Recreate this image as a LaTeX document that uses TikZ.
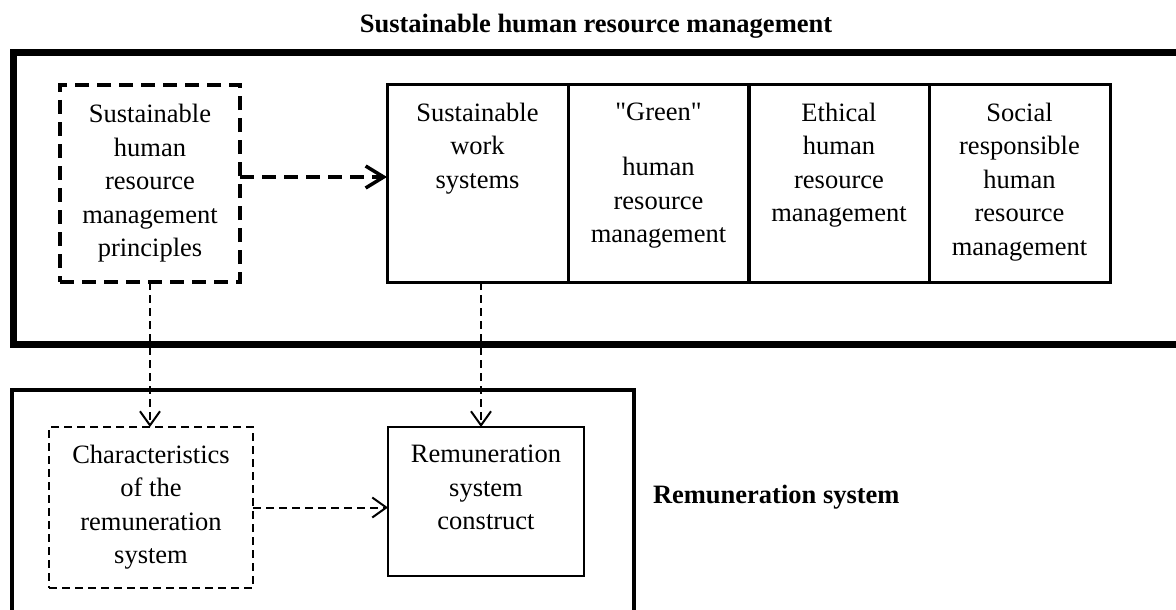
\documentclass[tikz,border=0pt]{standalone}
\usepackage{fontspec}
\setmainfont{Liberation Serif}
\newfontfamily\plainquote{Liberation Serif}
\usetikzlibrary{arrows.meta}
\begin{document}
\begin{tikzpicture}[x=1pt,y=-1pt,
  every node/.style={font=\fontsize{26.5}{33.5}\selectfont, inner sep=0pt, outer sep=0pt},
  bigframe/.style={line width=7pt},
  subframe/.style={line width=4pt},
  dashbox/.style={draw, line width=3.5pt, dash pattern=on 14pt off 8pt},
  thindashbox/.style={draw, line width=2pt, dash pattern=on 8pt off 5pt},
  rowbox/.style={draw, line width=3pt, minimum width=181pt, minimum height=197pt},
  solidbox/.style={draw, line width=2.5pt},
  boxtext/.style={anchor=north, align=center, yshift=-18pt},
  thickarrow/.style={line width=3.5pt, dash pattern=on 14pt off 8pt, -{Straight Barb[length=18pt,width=22pt]}},
  thinarrow/.style={line width=2pt, dash pattern=on 8pt off 5pt, -{Straight Barb[length=14pt,width=20pt]}},
  heading/.style={font=\fontsize{26.5}{33.5}\selectfont\bfseries}
]
\useasboundingbox (0,0) rectangle (1176,610);

% frames
\draw[bigframe] (1190,53) -- (13,53) -- (13,344) -- (1190,344);
\draw[subframe] (12,620) -- (12,390) -- (634,390) -- (634,620);

% headings
\node[heading, anchor=base] (title) at (596,33) {Sustainable human resource management};
\node[heading, anchor=base west] (rs) at (653,503) {Remuneration system};

% principles
\node[dashbox, minimum width=180pt, minimum height=197pt, align=center] (pr) at (150,183.5)
  {Sustainable\\human\\resource\\management\\principles};

% row of boxes
\node[rowbox] (ws) at (477.5,183.5) {};
\node[rowbox] (gr) at (658.5,183.5) {};
\node[rowbox] (et) at (839,183.5) {};
\node[rowbox] (so) at (1019.5,183.5) {};
\node[boxtext] (wst) at (ws.north) {Sustainable\\work\\systems};
\node[boxtext] (grt) at (gr.north) {{\plainquote"}Green{\plainquote"}\\[21.5pt]human\\resource\\management};
\node[boxtext] (ett) at (et.north) {Ethical\\human\\resource\\management};
\node[boxtext] (sot) at (so.north) {Social\\responsible\\human\\resource\\management};

% lower boxes
\node[thindashbox, minimum width=204pt, minimum height=161pt] (ch) at (151,507.5) {};
\node[solidbox, minimum width=196pt, minimum height=149pt] (rc) at (486,501.5) {};
\node[boxtext] (cht) at (ch.north) {Characteristics\\of the\\remuneration\\system};
\node[boxtext] (rct) at (rc.north) {Remuneration\\system\\construct};

% connectors
\draw[thickarrow] ([yshift=6.5pt]pr.east) -- ([yshift=6.5pt]pr.east -| ws.west);
\draw[thinarrow] (pr.south) -- (pr.south |- ch.north);
\draw[thinarrow] ([xshift=3.5pt]ws.south) -- ([xshift=3.5pt]ws.south |- rc.north);
\draw[thinarrow] (ch.east) -- (ch.east -| rc.west);
\end{tikzpicture}
\end{document}
